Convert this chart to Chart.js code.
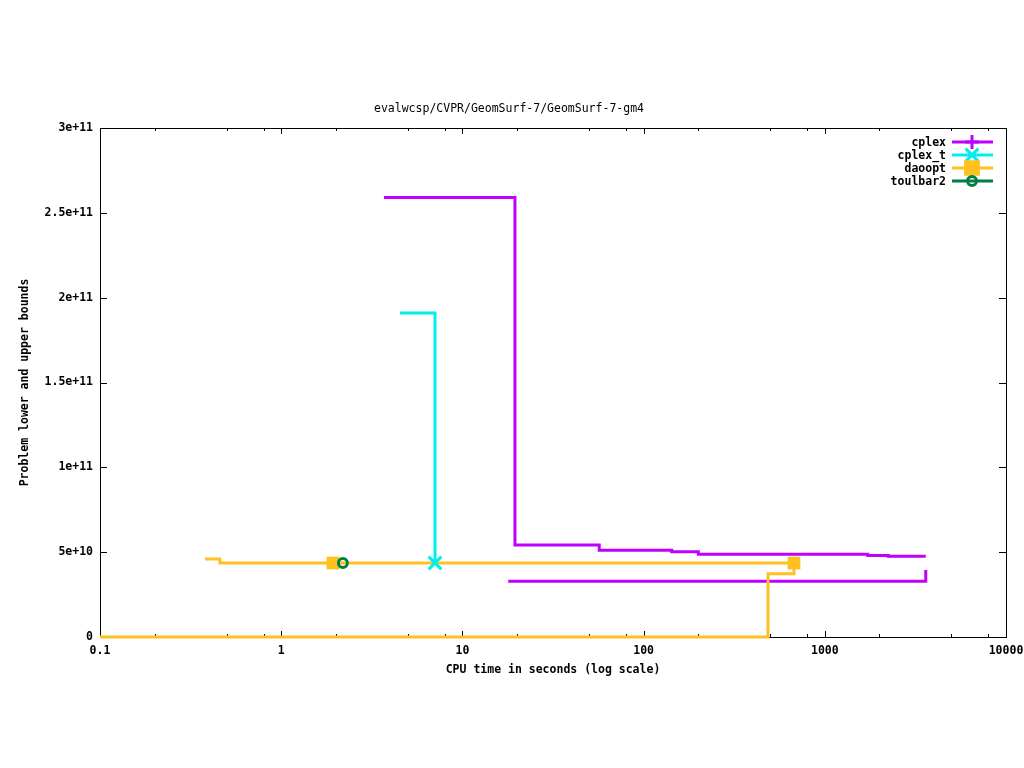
<!DOCTYPE html>
<html>
<head>
<meta charset="utf-8">
<script src="https://cdn.jsdelivr.net/npm/chart.js@4.4.1/dist/chart.umd.min.js"></script>
<style>
  body { margin: 0; background: #fff; }
</style>
</head>
<body>
<canvas id="boundsChart" width="1024" height="768"></canvas>
<script>
'use strict';

// CPU time (s) and bound values
const cplexUpperTime  = [3.69, 19.5, 56.9, 142.9, 200.5, 1726, 2239, 3607];
const cplexUpperValue = [2.59e11, 5.42e10, 5.11e10, 5.03e10, 4.87e10, 4.81e10, 4.76e10, 4.76e10];
const cplexLowerTime  = [17.9, 3607, 3607];
const cplexLowerValue = [3.28e10, 3.28e10, 3.95e10];

const cplexTUpperTime  = [4.52, 7.06];
const cplexTUpperValue = [1.91e11, 4.36e10];

const daooptUpperTime  = [0.38, 0.459, 1.93, 676];
const daooptUpperValue = [4.60e10, 4.36e10, 4.36e10, 4.36e10];
const daooptLowerTime  = [0.1, 486, 676];
const daooptLowerValue = [0, 3.73e10, 4.36e10];

const toulbar2Time  = [2.19];
const toulbar2Value = [4.36e10];

const xTickValues = [0.1, 1, 10, 100, 1000, 10000];
const xMinorFactors = [2, 5, 8];
const yTickValues = [0, 5e10, 1e11, 1.5e11, 2e11, 2.5e11, 3e11];

const COLOR_CPLEX = '#c000ff';
const COLOR_CPLEX_T = '#00eeee';
const COLOR_DAOOPT = '#ffc020';
const COLOR_TOULBAR2 = '#008040';
const FONT_FAMILY = '"DejaVu Sans Mono", "Liberation Mono", monospace';

function toPoints(times, values){
    var pts = [];
    for (var i = 0; i < times.length; i++) {
        pts.push({ x: times[i], y: values[i] });
    }
    return pts;
}

// radius only on the points that carry a marker
function markerRadius(count, indexes, r){
    var arr = [];
    for (var i = 0; i < count; i++) {
        arr.push(indexes.indexOf(i) >= 0 ? r : 0);
    }
    return arr;
}

function lineSet(label, color, times, values, extra){
    var ds = {
        label: label,
        data: toPoints(times, values),
        borderColor: color,
        backgroundColor: color,
        borderWidth: 3,
        stepped: 'before',
        pointRadius: 0,
        pointHoverRadius: 0,
        fill: false
    };
    return Object.assign(ds, extra || {});
}

const legendEntries = [
    { label: 'cplex', color: COLOR_CPLEX, style: 'cross', radius: 7, fill: COLOR_CPLEX },
    { label: 'cplex_t', color: COLOR_CPLEX_T, style: 'crossRot', radius: 9, fill: COLOR_CPLEX_T },
    { label: 'daoopt', color: COLOR_DAOOPT, style: 'rect', radius: 9, fill: COLOR_DAOOPT },
    { label: 'toulbar2', color: COLOR_TOULBAR2, style: 'circle', radius: 4.5, fill: 'rgba(0,0,0,0)' }
];

// gnuplot-like frame with inward tick marks
const framePlugin = {
    id: 'frame',
    beforeDatasetsDraw(chart){
        var ctx = chart.ctx;
        var a = chart.chartArea;
        var xs = chart.scales.x;
        var ys = chart.scales.y;
        ctx.save();
        ctx.strokeStyle = '#000';
        ctx.lineWidth = 1;
        ctx.strokeRect(Math.round(a.left) + 0.5, Math.round(a.top) + 0.5,
            Math.round(a.right - a.left), Math.round(a.bottom - a.top));
        ctx.beginPath();
        xTickValues.forEach(function(v){
            var px = Math.round(xs.getPixelForValue(v)) + 0.5;
            ctx.moveTo(px, a.bottom); ctx.lineTo(px, a.bottom - 6);
            ctx.moveTo(px, a.top); ctx.lineTo(px, a.top + 6);
            if (v < xTickValues[xTickValues.length - 1]) {
                xMinorFactors.forEach(function(f){
                    var mx = Math.round(xs.getPixelForValue(v * f)) + 0.5;
                    ctx.moveTo(mx, a.bottom); ctx.lineTo(mx, a.bottom - 3);
                    ctx.moveTo(mx, a.top); ctx.lineTo(mx, a.top + 3);
                });
            }
        });
        yTickValues.forEach(function(v){
            var py = Math.round(ys.getPixelForValue(v)) + 0.5;
            ctx.moveTo(a.left, py); ctx.lineTo(a.left + 7, py);
            ctx.moveTo(a.right, py); ctx.lineTo(a.right - 7, py);
        });
        ctx.stroke();
        ctx.restore();
    }
};

const legendPlugin = {
    id: 'gnuLegend',
    afterDatasetsDraw(chart){
        var ctx = chart.ctx;
        var a = chart.chartArea;
        ctx.save();
        ctx.font = 'bold 11.5px ' + FONT_FAMILY;
        ctx.textAlign = 'right';
        ctx.textBaseline = 'middle';
        legendEntries.forEach(function(e, i){
            var y = a.top + 14 + i * 13;
            ctx.fillStyle = '#000';
            ctx.fillText(e.label, a.right - 60, y + 1);
            ctx.strokeStyle = e.color;
            ctx.lineWidth = 3;
            ctx.beginPath();
            ctx.moveTo(a.right - 54, y);
            ctx.lineTo(a.right - 13, y);
            ctx.stroke();
            ctx.fillStyle = e.fill;
            Chart.helpers.drawPoint(ctx, {
                pointStyle: e.style, radius: e.radius, rotation: 0, borderWidth: 3
            }, a.right - 34, y);
        });
        ctx.restore();
    }
};

const tickFont = { family: FONT_FAMILY, size: 11.5, weight: 'bold' };

new Chart(document.getElementById('boundsChart'), {
    type: 'line',
    data: {
        datasets: [
            lineSet('toulbar2', COLOR_TOULBAR2, toulbar2Time, toulbar2Value, {
                order: 0, pointStyle: 'circle', pointRadius: 4.5, pointBorderWidth: 3,
                pointBackgroundColor: 'rgba(0,0,0,0)', pointBorderColor: COLOR_TOULBAR2
            }),
            lineSet('cplex_t', COLOR_CPLEX_T, cplexTUpperTime, cplexTUpperValue, {
                order: 1, pointStyle: 'crossRot', pointBorderWidth: 3,
                pointRadius: markerRadius(cplexTUpperTime.length, [1], 9)
            }),
            lineSet('daoopt', COLOR_DAOOPT, daooptUpperTime, daooptUpperValue, {
                order: 2, pointStyle: 'rect', pointBorderWidth: 0,
                pointRadius: markerRadius(daooptUpperTime.length, [2, 3], 9)
            }),
            lineSet('daoopt lower', COLOR_DAOOPT, daooptLowerTime, daooptLowerValue, {
                order: 2, clip: false
            }),
            lineSet('cplex', COLOR_CPLEX, cplexUpperTime, cplexUpperValue, { order: 3 }),
            lineSet('cplex lower', COLOR_CPLEX, cplexLowerTime, cplexLowerValue, { order: 3 })
        ]
    },
    options: {
        responsive: false,
        animation: false,
        events: [],
        layout: { padding: { left: 12, right: 18, top: 0, bottom: 0 } },
        plugins: {
            legend: { display: false },
            tooltip: { enabled: false },
            title: {
                display: true,
                text: 'evalwcsp/CVPR/GeomSurf-7/GeomSurf-7-gm4',
                color: '#000',
                font: { family: FONT_FAMILY, size: 11.5, weight: 'normal' },
                padding: { top: 102, bottom: 12.2 }
            }
        },
        scales: {
            x: {
                type: 'logarithmic',
                min: 0.1,
                max: 10000,
                grid: { display: false, drawTicks: false },
                border: { display: false },
                afterBuildTicks: function(s){
                    s.ticks = xTickValues.map(function(v){ return { value: v }; });
                },
                afterFit: function(s){
                    s.height = 131;
                    s.paddingLeft = 0;
                    s.paddingRight = 0;
                },
                ticks: {
                    autoSkip: false,
                    maxRotation: 0,
                    padding: 7,
                    color: '#000',
                    font: tickFont,
                    callback: function(v){ return String(v); }
                },
                title: {
                    display: true,
                    text: 'CPU time in seconds (log scale)',
                    color: '#000',
                    font: tickFont,
                    padding: { top: 4, bottom: 91 }
                }
            },
            y: {
                min: 0,
                max: 3e11,
                grid: { display: false, drawTicks: false },
                border: { display: false },
                afterBuildTicks: function(s){
                    s.ticks = yTickValues.map(function(v){ return { value: v }; });
                },
                afterFit: function(s){
                    s.width = 88;
                    s.paddingTop = 0;
                    s.paddingBottom = 0;
                },
                ticks: {
                    padding: 7,
                    color: '#000',
                    font: tickFont,
                    callback: function(v){ return v === 0 ? '0' : v.toExponential(); }
                },
                title: {
                    display: true,
                    text: 'Problem lower and upper bounds',
                    color: '#000',
                    font: tickFont,
                    padding: { top: 6, bottom: 0 }
                }
            }
        }
    },
    plugins: [framePlugin, legendPlugin]
});
</script>
</body>
</html>
